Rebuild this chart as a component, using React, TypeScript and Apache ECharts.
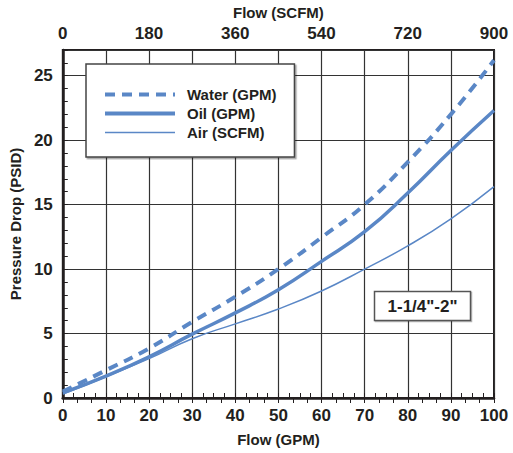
import React, { useEffect, useRef } from "react";
import * as echarts from "echarts";

const flowGpm = [0, 10, 20, 30, 40, 50, 60, 70, 80, 90, 100];
const waterPsid = [0.5, 2.15, 3.85, 5.9, 7.85, 10.0, 12.45, 15.0, 18.3, 22.0, 26.2];
const oilPsid = [0.4, 1.7, 3.2, 4.95, 6.6, 8.4, 10.6, 12.9, 15.9, 19.2, 22.3];
const airPsid = [0.3, 1.65, 3.05, 4.6, 5.75, 6.9, 8.3, 10.0, 11.8, 13.9, 16.4];
const seriesNames = ["Water (GPM)", "Oil (GPM)", "Air (SCFM)"];
const sizeLabel = '1-1/4"-2"';

const BLUE = "#5a87c6";
const INK = "#231f20";
const FONT = "'Liberation Sans', Arial, sans-serif";

const pairs = (ys: number[]) => flowGpm.map((x, i) => [x, ys[i]]);

const lineStyles = [
  { color: BLUE, width: 4, type: [10, 7] as number[] },
  { color: BLUE, width: 3.5, type: "solid" as const },
  { color: BLUE, width: 1.5, type: "solid" as const },
];

export default function App() {
  const ref = useRef<HTMLDivElement>(null);
  useEffect(() => {
    if (!ref.current) return;
    const chart = echarts.init(ref.current, undefined, { renderer: "svg" });
    const tickLabel = { color: INK, fontFamily: FONT, fontWeight: "bold" as const, fontSize: 17 };
    const nameStyle = { color: INK, fontFamily: FONT, fontWeight: "bold" as const, fontSize: 15 };
    chart.setOption({
      animation: false,
      backgroundColor: "#ffffff",
      grid: {
        left: 62,
        right: 19,
        top: 45,
        bottom: 55,
        show: true,
        borderColor: INK,
        borderWidth: 2,
        backgroundColor: "transparent",
      },
      legend: {
        left: 86,
        top: 64,
        orient: "vertical",
        data: seriesNames.map((name, i) => ({
          name,
          lineStyle: { ...lineStyles[i], width: i === 2 ? 1.5 : 4 },
          itemStyle: { color: "rgba(0,0,0,0)", borderColor: "rgba(0,0,0,0)", borderWidth: 0 },
        })),
        itemWidth: 70,
        itemHeight: 15,
        itemGap: 4,
        padding: [23, 18, 17, 17],
        backgroundColor: "#ffffff",
        borderColor: "#444",
        borderWidth: 1.5,
        shadowColor: "rgba(0,0,0,0.35)",
        shadowOffsetX: 1.5,
        shadowOffsetY: 1.5,
        shadowBlur: 0,
        textStyle: { ...nameStyle, fontSize: 15, padding: [0, 0, 0, 7] },
      },
      xAxis: [
        {
          type: "value",
          position: "bottom",
          min: 0,
          max: 100,
          interval: 10,
          name: "Flow (GPM)",
          nameLocation: "middle",
          nameGap: 34,
          nameTextStyle: nameStyle,
          axisLine: { show: true, lineStyle: { color: INK, width: 2.5 } },
          axisTick: { show: true, inside: true, length: 5, lineStyle: { color: INK, width: 1 } },
          minorTick: { show: true, splitNumber: 4, length: 5, lineStyle: { color: INK, width: 1 } },
          axisLabel: { ...tickLabel, margin: 9 },
          splitLine: { show: true, lineStyle: { color: "#333", width: 1.2 } },
        },
        {
          type: "value",
          position: "top",
          min: 0,
          max: 900,
          interval: 180,
          name: "Flow (SCFM)",
          nameLocation: "middle",
          nameGap: 27,
          nameTextStyle: nameStyle,
          axisLine: { show: true, lineStyle: { color: INK, width: 2 } },
          axisTick: { show: true, inside: true, length: 5, lineStyle: { color: INK, width: 1 } },
          minorTick: { show: true, splitNumber: 6, length: 5, lineStyle: { color: INK, width: 1 } },
          axisLabel: { ...tickLabel, margin: 8 },
          splitLine: { show: false },
        },
      ],
      yAxis: [
        {
          type: "value",
          position: "left",
          min: 0,
          max: 27,
          interval: 5,
          name: "Pressure Drop (PSID)",
          nameLocation: "middle",
          nameGap: 30,
          nameTextStyle: nameStyle,
          axisLine: { show: true, lineStyle: { color: INK, width: 2.5 } },
          axisTick: { show: false },
          axisLabel: { ...tickLabel, margin: 10, showMaxLabel: false },
          splitLine: { show: true, lineStyle: { color: "#333", width: 1.2 } },
        },
        {
          type: "value",
          position: "left",
          min: 0,
          max: 27,
          interval: 1,
          axisLine: { show: false },
          axisTick: { show: true, inside: true, length: 5, lineStyle: { color: INK, width: 1 } },
          axisLabel: { show: false },
          splitLine: { show: false },
        },
      ],
      series: [waterPsid, oilPsid, airPsid].map((ys, i) => ({
        name: seriesNames[i],
        type: "line",
        xAxisIndex: 0,
        yAxisIndex: 0,
        data: pairs(ys),
        smooth: 0.5,
        symbol: "none",
        lineStyle: lineStyles[i],
        itemStyle: { color: BLUE },
        z: 3,
      })),
      graphic: [
        {
          type: "rect",
          z: 10,
          shape: { x: 374.5, y: 291.5, width: 96, height: 29 },
          style: {
            fill: "#ffffff",
            stroke: "#555",
            lineWidth: 1.5,
            shadowColor: "rgba(0,0,0,0.3)",
            shadowOffsetX: 1,
            shadowOffsetY: 1,
          },
        },
        {
          type: "text",
          z: 11,
          x: 422.5,
          y: 306.5,
          style: {
            text: sizeLabel,
            fill: INK,
            font: `bold 17px ${FONT}`,
            align: "center",
            verticalAlign: "middle",
          },
        },
      ],
    });
    return () => chart.dispose();
  }, []);
  return <div ref={ref} style={{ width: 513, height: 453, position: "absolute", left: 0, top: 0 }} />;
}
